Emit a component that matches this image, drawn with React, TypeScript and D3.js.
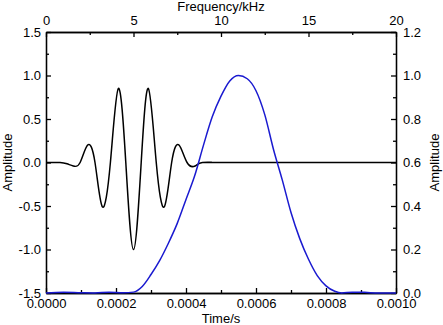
import React, { useEffect, useRef } from 'react'
import * as d3 from 'd3'

const WIDTH = 443
const HEIGHT = 325
const MARGIN = { top: 32, right: 47, bottom: 32, left: 46 }
const FONT = '"Liberation Sans", Arial, sans-serif'
const FONT_SIZE = 13

// time signal (s, amplitude)
const pulseTime = [
  0, 0.00004, 0.00006, 0.000078, 0.0000975, 0.000119, 0.00014, 0.000161, 0.000184,
  0.0002067, 0.000228, 0.00025, 0.000272, 0.0002925, 0.000315, 0.000338, 0.000359,
  0.00038, 0.000403, 0.000426, 0.000447, 0.00047, 0.0005, 0.001,
]
const pulseAmp = [
  0, 0, -0.015, -0.04, 0, 0.2, 0, -0.51, 0,
  0.85, 0, -1.0, 0, 0.85, 0, -0.51, 0,
  0.2, 0, -0.04, 0, 0, 0, 0,
]

// spectrum (kHz, normalised amplitude)
const specFreq = [
  0, 1, 2, 2.8, 3.6, 4.4, 5.0, 5.5, 6.0, 6.5, 7.0, 7.5, 8.0, 8.5, 9.0, 9.5, 10.0, 10.5,
  11.0, 11.5, 12.0, 12.5, 13.0, 13.5, 14.0, 14.5, 15.0, 15.5, 16.0, 16.5, 16.9, 17.5,
  18.2, 19, 20,
]
const specAmp = [
  0, 0.003, 0.001, 0, 0.004, 0.001, 0.004, 0.03, 0.085, 0.15, 0.23, 0.32, 0.43, 0.54,
  0.68, 0.81, 0.905, 0.975, 1.0, 0.985, 0.93, 0.82, 0.66, 0.52, 0.37, 0.25, 0.155,
  0.08, 0.033, 0.008, 0, 0.004, 0.003, 0, 0,
]

const timeTicks = [0, 0.0002, 0.0004, 0.0006, 0.0008, 0.001]
const timeMinor = [0.0001, 0.0003, 0.0005, 0.0007, 0.0009]
const freqTicks = [0, 5, 10, 15, 20]
const freqMinor = [2.5, 7.5, 12.5, 17.5]
const ampTicks = [-1.5, -1.0, -0.5, 0, 0.5, 1.0, 1.5]
const ampMinor = [-1.25, -0.75, -0.25, 0.25, 0.75, 1.25]
const specTicks = [0, 0.2, 0.4, 0.6, 0.8, 1.0, 1.2]
const specMinor = [0.1, 0.3, 0.5, 0.7, 0.9, 1.1]

export default function App() {
  const ref = useRef<SVGGElement>(null)

  const x0 = MARGIN.left
  const x1 = WIDTH - MARGIN.right
  const y0 = HEIGHT - MARGIN.bottom
  const y1 = MARGIN.top

  const xTime = d3.scaleLinear().domain([0, 0.001]).range([x0, x1])
  const xFreq = d3.scaleLinear().domain([0, 20]).range([x0, x1])
  const yAmp = d3.scaleLinear().domain([-1.5, 1.5]).range([y0, y1])
  const ySpec = d3.scaleLinear().domain([0, 1.2]).range([y0, y1])

  useEffect(() => {
    const g = d3.select(ref.current)
    g.selectAll('*').remove()

    const add = (axis: any, transform: string) => {
      const a = g.append('g').attr('transform', transform).call(axis)
      a.attr('font-family', FONT).attr('font-size', FONT_SIZE)
      a.selectAll('line, path').attr('stroke', '#000').attr('stroke-width', 1.3)
      a.selectAll('text').attr('fill', '#000')
      return a
    }

    // minor ticks
    add(d3.axisBottom(xTime).tickValues(timeMinor).tickSizeInner(-3).tickSizeOuter(0).tickFormat(() => ''), `translate(0,${y0})`)
    add(d3.axisTop(xFreq).tickValues(freqMinor).tickSizeInner(-3).tickSizeOuter(0).tickFormat(() => ''), `translate(0,${y1})`)
    add(d3.axisLeft(yAmp).tickValues(ampMinor).tickSizeInner(-3).tickSizeOuter(0).tickFormat(() => ''), `translate(${x0},0)`)
    add(d3.axisRight(ySpec).tickValues(specMinor).tickSizeInner(-3).tickSizeOuter(0).tickFormat(() => ''), `translate(${x1},0)`)

    // major ticks + labels
    add(d3.axisBottom(xTime).tickValues(timeTicks).tickSizeInner(-5).tickSizeOuter(0).tickPadding(6)
      .tickFormat((d: any) => (+d).toFixed(4)), `translate(0,${y0})`)
    add(d3.axisTop(xFreq).tickValues(freqTicks).tickSizeInner(-5).tickSizeOuter(0).tickPadding(7)
      .tickFormat((d: any) => String(d)), `translate(0,${y1})`)
    add(d3.axisLeft(yAmp).tickValues(ampTicks).tickSizeInner(-5).tickSizeOuter(0).tickPadding(5)
      .tickFormat((d: any) => (+d).toFixed(1)), `translate(${x0},0)`)
    add(d3.axisRight(ySpec).tickValues(specTicks).tickSizeInner(-5).tickSizeOuter(0).tickPadding(7)
      .tickFormat((d: any) => (+d).toFixed(1)), `translate(${x1},0)`)
  }, [])

  const pulseLine = d3.line<number>()
    .x((_, i) => xTime(pulseTime[i]))
    .y((d) => yAmp(d))
    .curve(d3.curveNatural)

  const specLine = d3.line<number>()
    .x((_, i) => xFreq(specFreq[i]))
    .y((d) => ySpec(d))
    .curve(d3.curveMonotoneX)

  return (
    <svg width={WIDTH} height={HEIGHT} style={{ position: 'absolute', left: 0, top: 0, background: '#fff' }}>
      <g ref={ref} />
      <path d={pulseLine(pulseAmp) || ''} fill="none" stroke="#000" strokeWidth={1.5} />
      <path d={specLine(specAmp) || ''} fill="none" stroke="#1a1ad0" strokeWidth={1.5} />
      <g fontFamily={FONT} fontSize={FONT_SIZE} fill="#000">
        <text x={(x0 + x1) / 2} y={11} textAnchor="middle">Frequency/kHz</text>
        <text x={(x0 + x1) / 2} y={323} textAnchor="middle">Time/s</text>
        <text transform={`translate(12,${(y0 + y1) / 2}) rotate(-90)`} textAnchor="middle">Amplitude</text>
        <text transform={`translate(439,${(y0 + y1) / 2}) rotate(-90)`} textAnchor="middle">Amplitude</text>
      </g>
    </svg>
  )
}
